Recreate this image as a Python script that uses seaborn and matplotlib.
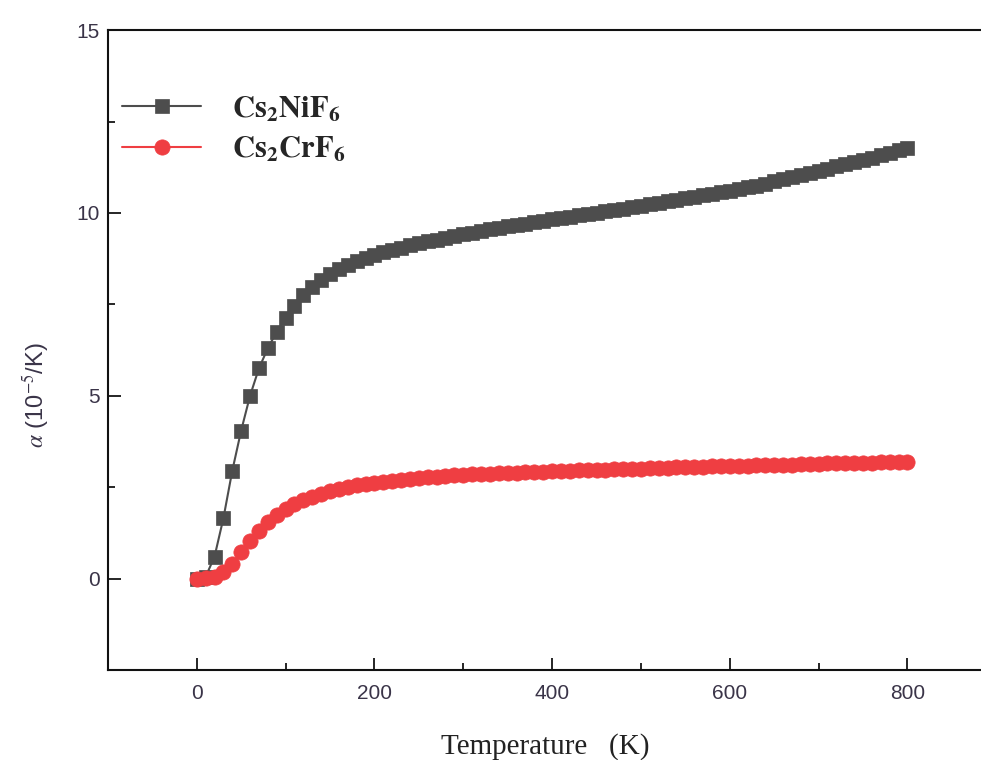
import numpy as np
import pandas as pd
import matplotlib
matplotlib.use("Agg")
import matplotlib.pyplot as plt
import seaborn as sns
from matplotlib.ticker import MultipleLocator

# Données (pas de 10 K)
temperature = np.arange(0, 801, 10)

alpha_ni = [
    0.00, 0.05, 0.60, 1.65, 2.95, 4.05, 5.00, 5.75, 6.30, 6.75,
    7.12, 7.45, 7.75, 7.98, 8.17, 8.33, 8.46, 8.58, 8.68, 8.77,
    8.85, 8.92, 8.99, 9.05, 9.11, 9.17, 9.22, 9.27, 9.32, 9.37,
    9.42, 9.46, 9.50, 9.55, 9.59, 9.63, 9.67, 9.71, 9.75, 9.79,
    9.83, 9.87, 9.90, 9.94, 9.97, 10.01, 10.05, 10.08, 10.12, 10.16,
    10.20, 10.24, 10.28, 10.32, 10.36, 10.40, 10.44, 10.48, 10.52, 10.56,
    10.61, 10.65, 10.70, 10.75, 10.80, 10.86, 10.92, 10.98, 11.04, 11.10,
    11.15, 11.21, 11.27, 11.33, 11.39, 11.45, 11.51, 11.58, 11.64, 11.71,
    11.78,
]

alpha_cr = [
    0.00, 0.01, 0.05, 0.17, 0.40, 0.72, 1.02, 1.30, 1.55, 1.74,
    1.90, 2.03, 2.14, 2.24, 2.32, 2.39, 2.45, 2.50, 2.55, 2.59,
    2.62, 2.65, 2.68, 2.71, 2.73, 2.75, 2.77, 2.79, 2.81, 2.82,
    2.84, 2.85, 2.86, 2.87, 2.88, 2.89, 2.90, 2.91, 2.92, 2.92,
    2.93, 2.94, 2.95, 2.96, 2.96, 2.97, 2.98, 2.99, 2.99, 3.00,
    3.01, 3.02, 3.02, 3.03, 3.04, 3.05, 3.05, 3.06, 3.07, 3.07,
    3.08, 3.09, 3.09, 3.10, 3.10, 3.11, 3.12, 3.12, 3.13, 3.13,
    3.14, 3.15, 3.15, 3.16, 3.16, 3.17, 3.17, 3.18, 3.18, 3.19,
    3.19,
]

labels = [r"$\mathbf{Cs_2NiF_6}$", r"$\mathbf{Cs_2CrF_6}$"]

df = pd.DataFrame({"T": temperature, "ni": alpha_ni, "cr": alpha_cr})

sns.set_style("ticks")
plt.rcParams["font.family"] = ["Liberation Sans", "DejaVu Sans"]
plt.rcParams["mathtext.fontset"] = "stix"

fig = plt.figure(figsize=(9.81, 7.6), dpi=100)
ax = fig.add_axes([0.110, 0.1184, 0.892, 0.842])

sns.lineplot(data=df, x="T", y="ni", ax=ax, color="#4d4d4d", lw=1.5,
             marker="s", markersize=10.5, markeredgewidth=0.5,
             markeredgecolor="#4d4d4d", label=labels[0])
sns.lineplot(data=df, x="T", y="cr", ax=ax, color="#ef3e42", lw=1.5,
             marker="o", markersize=11, markeredgewidth=0.5,
             markeredgecolor="#ef3e42", label=labels[1])

ax.set_xlim(-100, 885)
ax.set_ylim(-2.5, 15)
ax.xaxis.set_major_locator(MultipleLocator(200))
ax.xaxis.set_minor_locator(MultipleLocator(100))
ax.yaxis.set_major_locator(MultipleLocator(5))
ax.yaxis.set_minor_locator(MultipleLocator(2.5))

ax.spines["right"].set_visible(False)
for s in ["left", "bottom", "top"]:
    ax.spines[s].set_linewidth(1.5)
    ax.spines[s].set_color("#111111")

ax.tick_params(which="major", direction="in", length=9, width=1.4,
               labelsize=15, labelcolor="#3a3448")
ax.tick_params(axis="x", which="major", pad=10)
ax.tick_params(axis="y", which="major", pad=6)
ax.tick_params(which="minor", direction="in", length=5, width=1.4)
ax.tick_params(top=False, right=False, which="both")

ax.set_xlabel("Temperature   (K)", family=["Liberation Serif", "DejaVu Serif"],
              fontsize=21, color="#222222", labelpad=22)
ax.set_ylabel(r"$\alpha$ (10$^{-5}$/K)", fontsize=17, color="#3a3448")
ax.yaxis.set_label_coords(-0.065, 0.43)

leg = ax.legend(loc="upper left", bbox_to_anchor=(0.016, 0.90), frameon=False,
                fontsize=22, handlelength=2.6, handletextpad=1.0,
                labelspacing=0.35, borderaxespad=0, borderpad=0)

plt.savefig("out.png", dpi=100)
